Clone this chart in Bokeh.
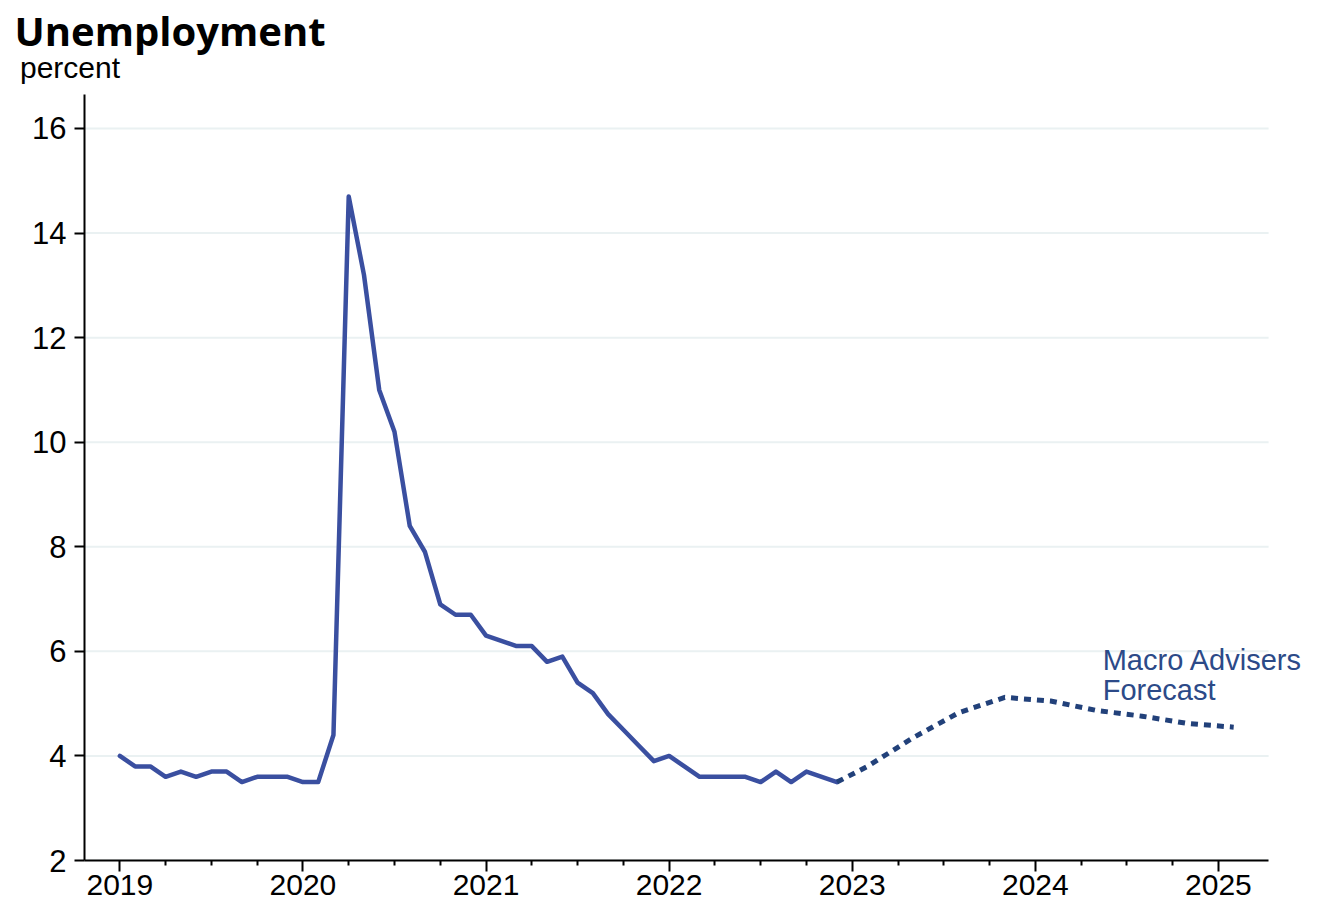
from bokeh.plotting import figure
from bokeh.models import FixedTicker, Label, Range1d, Title
from bokeh.embed import file_html
from bokeh.resources import INLINE

# ---- data ----
actual_start_year = 2019
actual_values = [
    4.0, 3.8, 3.8, 3.6, 3.7, 3.6, 3.7, 3.7, 3.5, 3.6, 3.6, 3.6,   # 2019
    3.5, 3.5, 4.4, 14.7, 13.2, 11.0, 10.2, 8.4, 7.9, 6.9, 6.7, 6.7,  # 2020
    6.3, 6.2, 6.1, 6.1, 5.8, 5.9, 5.4, 5.2, 4.8, 4.5, 4.2, 3.9,   # 2021
    4.0, 3.8, 3.6, 3.6, 3.6, 3.6, 3.5, 3.7, 3.5, 3.7, 3.6, 3.5,   # 2022
]
forecast_years = [2022, 2023, 2023, 2023, 2023, 2024, 2024, 2024, 2024, 2025]
forecast_months = [12, 2, 5, 8, 11, 2, 5, 8, 11, 2]
forecast_values = [3.5, 3.8, 4.35, 4.83, 5.12, 5.05, 4.87, 4.76, 4.62, 4.55]

year_ticks = [2019, 2020, 2021, 2022, 2023, 2024, 2025]
y_ticks = [2, 4, 6, 8, 10, 12, 14, 16]

title_text = "Unemployment"
unit_text = "percent"
note_lines = ["Macro Advisers", "Forecast"]

# ---- derived x positions (fractional years) ----
actual_x = [actual_start_year + i / 12 for i in range(len(actual_values))]
forecast_x = [y + (m - 1) / 12 for y, m in zip(forecast_years, forecast_months)]
quarter_minor = [y + q / 4 for y in year_ticks[:-1] for q in (1, 2, 3)]

SOLID = "#3A4FA0"
DOTTED = "#22417A"
NOTE = "#2C4A88"
GRID = "#EAF1F2"

X_AXIS_LO, X_AXIS_HI = 2018.807, 2025.274   # extent of the drawn x axis
X_VIEW_HI = 2025.623                         # frame reaches the page edge
Y_LO, Y_HI = 2, 16.65

p = figure(
    frame_width=1248, frame_height=766,
    x_range=Range1d(X_AXIS_LO, X_VIEW_HI),
    y_range=Range1d(Y_LO, Y_HI),
    output_backend="svg", toolbar_location=None, title=None,
    min_border_left=84, min_border_top=94, min_border_right=0, min_border_bottom=40,
)
p.outline_line_color = None
p.background_fill_color = "white"
p.border_fill_color = "white"

p.xgrid.visible = False
p.ygrid.visible = False

# horizontal grid lines limited to the axis extent
p.segment(x0=[X_AXIS_LO] * len(y_ticks), y0=y_ticks,
          x1=[X_AXIS_HI] * len(y_ticks), y1=y_ticks,
          line_color=GRID, line_width=2, level="underlay")

# axes
for ax in (p.xaxis[0], p.yaxis[0]):
    ax.axis_line_color = "black"
    ax.axis_line_width = 2
    ax.major_tick_line_color = "black"
    ax.major_tick_line_width = 2
    ax.major_tick_in = 0
    ax.major_label_text_font = "Liberation Sans"
    ax.major_label_text_color = "black"

p.xaxis.bounds = (X_AXIS_LO, X_AXIS_HI)
p.xaxis.ticker = FixedTicker(ticks=year_ticks, minor_ticks=quarter_minor)
p.xaxis.major_tick_out = 11
p.xaxis.minor_tick_out = 5
p.xaxis.minor_tick_in = 0
p.xaxis.minor_tick_line_color = "black"
p.xaxis.minor_tick_line_width = 2
p.xaxis.major_label_standoff = 3
p.xaxis.major_label_text_font_size = "30px"

p.yaxis.ticker = FixedTicker(ticks=y_ticks)
p.yaxis.major_tick_out = 10
p.yaxis.minor_tick_line_color = None
p.yaxis.major_label_standoff = 8
p.yaxis.major_label_text_font_size = "31px"

# lines
p.line(actual_x, actual_values, line_color=SOLID, line_width=4.5,
       line_join="round", line_cap="round")
p.line(forecast_x, forecast_values, line_color=DOTTED, line_width=5,
       line_dash="7 6", line_cap="butt")

# title & unit (stacked above the frame)
p.add_layout(Title(text=unit_text, align="left", offset=-64.5, standoff=21,
                   text_font="Liberation Sans", text_font_style="normal",
                   text_font_size="30px", text_color="black"), "above")
p.add_layout(Title(text=title_text, align="left", offset=-70, standoff=-38,
                   text_font="Open Sans", text_font_style="bold",
                   text_font_size="40px", text_color="black"), "above")

# forecast note
note_x = 2024.368
note_y = [5.844, 5.270]
for t, yy in zip(note_lines, note_y):
    p.add_layout(Label(x=note_x, y=yy, text=t, text_font="Liberation Sans",
                       text_font_size="29px", text_color=NOTE,
                       text_baseline="alphabetic"))

open("out.html", "w").write(file_html(p, INLINE))
